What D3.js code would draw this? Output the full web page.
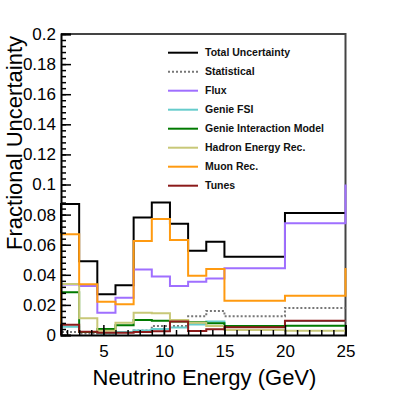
<!DOCTYPE html>
<html>
<head>
<meta charset="utf-8">
<script src="https://cdn.jsdelivr.net/npm/d3@7"></script>
<style>
  body { margin: 0; background: #fff; }
  svg { display: block; font-family: "Liberation Sans", Arial, sans-serif; }
</style>
</head>
<body>
<div id="chart"></div>
<script>
// bin edges (GeV)
const binEdges = [1.5, 3, 4.5, 6, 7.5, 9, 10.5, 12, 13.5, 15, 20, 25];

// fractional uncertainty per bin
const totalUnc   = [0.087, 0.049, 0.027, 0.033, 0.078, 0.088, 0.074, 0.056, 0.062, 0.052, 0.081];
const statUnc    = [0.002, 0.001, 0.001, 0.002, 0.003, 0.006, 0.006, 0.0125, 0.016, 0.0125, 0.018];
const fluxUnc    = [0.0335, 0.0326, 0.0148, 0.0248, 0.0436, 0.0388, 0.0326, 0.0354, 0.0376, 0.0443, 0.0742];
const fsiUnc     = [0.0055, 0.002, 0.001, 0.002, 0.003, 0.004, 0.005, 0.007, 0.009, 0.006, 0.0093];
const genieUnc   = [0.0284, 0.002, 0.004, 0.0064, 0.010, 0.0095, 0.0089, 0.0084, 0.0078, 0.006, 0.0062];
const hadronUnc  = [0.0339, 0.0111, 0.0029, 0.0082, 0.0148, 0.0144, 0.010, 0.0082, 0.006, 0.0033, 0.0029];
const muonUnc    = [0.067, 0.0337, 0.0221, 0.0204, 0.0625, 0.0771, 0.0631, 0.0394, 0.0439, 0.0228, 0.0261];
const tunesUnc   = [0.0068, 0.0022, 0.0015, 0.0015, 0.002, 0.0025, 0.0089, 0.0027, 0.0038, 0.0051, 0.0095];

// value the line climbs to at the right edge (overflow)
const overflowVals = [0.081, 0.018, 0.1, 0.0093, 0.0062, 0.0029, 0.0445, 0.0095];

const seriesNames = ["Total Uncertainty", "Statistical", "Flux", "Genie FSI",
  "Genie Interaction Model", "Hadron Energy Rec.", "Muon Rec.", "Tunes"];
const seriesValues = [totalUnc, statUnc, fluxUnc, fsiUnc, genieUnc, hadronUnc, muonUnc, tunesUnc];
const seriesColors = ["#000000", "#777777", "#9f6fff", "#66cccc", "#007a00", "#c8c878", "#ff9a10", "#8b1a1a"];

const yTicks = [0, 0.02, 0.04, 0.06, 0.08, 0.1, 0.12, 0.14, 0.16, 0.18, 0.2];
const xTicks = [5, 10, 15, 20, 25];

//dims
const width = 407, height = 394;
const margin = { top: 34, right: 61.5, bottom: 59, left: 61 };

const x = d3.scaleLinear()
    .domain([1.5, 25])
    .range([margin.left, width - margin.right]);

const y = d3.scaleLinear()
    .domain([0, 0.2])
    .range([height - margin.bottom, margin.top]);

const svg = d3.select("#chart")
    .append("svg")
    .attr("width", width)
    .attr("height", height);

// frame (top / right)
svg.append("path")
    .attr("d", `M${x(1.5)},${y(0.2)}H${x(25)}V${y(0)}`)
    .attr("fill", "none")
    .attr("stroke", "#444")
    .attr("stroke-width", 2);

// histograms
const series = seriesNames.map((name, i) => ({
  name, color: seriesColors[i], values: seriesValues[i], over: overflowVals[i]
}));

function stepPath(s) {
  const p = d3.path();
  p.moveTo(x(binEdges[0]), y(0));
  s.values.forEach((v, i) => {
    p.lineTo(x(binEdges[i]), y(v));
    p.lineTo(x(binEdges[i + 1]), y(v));
  });
  p.lineTo(x(binEdges[binEdges.length - 1]), y(s.over));
  return p.toString();
}

svg.append("g")
  .selectAll("path")
  .data(series)
  .join("path")
    .attr("d", stepPath)
    .attr("fill", "none")
    .attr("stroke", d => d.color)
    .attr("stroke-width", 2)
    .attr("stroke-dasharray", d => d.name == "Statistical" ? "2,2" : null);

// y axis, ticks inside
const yMinor = d3.range(0, 0.2001, 0.004);
svg.append("g")
  .attr("transform", `translate(${margin.left},0)`)
  .call(d3.axisRight(y).tickValues(yMinor).tickSize(5).tickFormat(""))
  .call(g => g.select(".domain").remove())
  .selectAll("line").attr("stroke-width", 1.5);

const yAx = svg.append("g")
  .attr("transform", `translate(${margin.left},0)`)
  .call(d3.axisRight(y).tickValues(yTicks).tickSize(10)
    .tickFormat(d => d === 0 ? "0" : String(+d.toFixed(2))));
yAx.select(".domain").attr("stroke-width", 2);
yAx.selectAll("line").attr("stroke-width", 1.5);
yAx.selectAll("text")
  .attr("x", -5)
  .attr("text-anchor", "end")
  .attr("fill", "#000")
  .style("font-size", "17px");

// x axis, ticks inside
const xMinor = d3.range(2, 25.01, 1);
svg.append("g")
  .attr("transform", `translate(0,${height - margin.bottom})`)
  .call(d3.axisTop(x).tickValues(xMinor).tickSize(5).tickFormat(""))
  .call(g => g.select(".domain").remove())
  .selectAll("line").attr("stroke-width", 1.5);

const xAx = svg.append("g")
  .attr("transform", `translate(0,${height - margin.bottom})`)
  .call(d3.axisTop(x).tickValues(xTicks).tickSize(10));
xAx.select(".domain").attr("stroke-width", 2);
xAx.selectAll("line").attr("stroke-width", 1.5);
xAx.selectAll("text")
  .attr("y", 22)
  .attr("dy", 0)
  .attr("fill", "#000")
  .style("font-size", "17px");

// titles
svg.append("text")
  .attr("x", 204.5)
  .attr("y", 385)
  .attr("text-anchor", "middle")
  .style("font-size", "22px")
  .text("Neutrino Energy (GeV)");

svg.append("text")
  .attr("transform", "translate(22,143) rotate(-90)")
  .attr("text-anchor", "middle")
  .style("font-size", "22px")
  .text("Fractional Uncertainty");

// legend
const legend = svg.append("g")
  .selectAll("g")
  .data(series)
  .join("g")
    .attr("transform", (d, i) => `translate(168,${52.7 + i * 19})`);

legend.append("line")
  .attr("x1", 0).attr("x2", 30)
  .attr("stroke", d => d.color)
  .attr("stroke-width", 2)
  .attr("stroke-dasharray", d => d.name == "Statistical" ? "2,2" : null);

legend.append("text")
  .attr("x", 37)
  .attr("dy", "0.35em")
  .style("font-size", "10.5px")
  .style("font-weight", "bold")
  .attr("fill", "#111")
  .text(d => d.name);
</script>
</body>
</html>
